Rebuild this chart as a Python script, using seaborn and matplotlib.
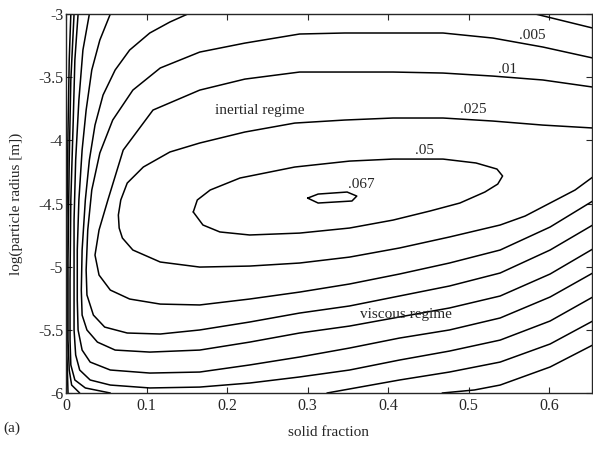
import numpy as np
import pandas as pd
import seaborn as sns
import matplotlib.pyplot as plt

sns.set_theme(style="ticks")
plt.rcParams['font.family'] = ['Liberation Serif', 'DejaVu Serif']

# contour lines: x = solid fraction, y = log(particle radius)
c067_x = [0.300, 0.313, 0.355, 0.361, 0.349, 0.313, 0.300]
c067_y = [-4.457, -4.496, -4.480, -4.441, -4.409, -4.425, -4.457]

c05_x = [0.158, 0.163, 0.179, 0.216, 0.284, 0.352, 0.406, 0.468, 0.509, 0.535, 0.542,
         0.536, 0.520, 0.489, 0.452, 0.406, 0.352, 0.290, 0.228, 0.191, 0.170, 0.158]
c05_y = [-4.567, -4.472, -4.393, -4.298, -4.211, -4.164, -4.148, -4.148, -4.179, -4.227, -4.282,
         -4.346, -4.409, -4.496, -4.559, -4.631, -4.694, -4.734, -4.749, -4.725, -4.670, -4.567]

c025_x = [0.654, 0.592, 0.530, 0.468, 0.406, 0.346, 0.284, 0.222, 0.166, 0.129, 0.096, 0.076, 0.068, 0.065, 0.066,
          0.070, 0.083, 0.117, 0.166, 0.228, 0.290, 0.352, 0.414, 0.476, 0.539, 0.570, 0.601, 0.632, 0.654]
c025_y = [-3.902, -3.879, -3.847, -3.823, -3.823, -3.839, -3.863, -3.934, -4.021, -4.092, -4.211, -4.338, -4.472, -4.591, -4.694,
          -4.773, -4.868, -4.963, -5.003, -4.995, -4.971, -4.924, -4.852, -4.765, -4.670, -4.599, -4.496, -4.393, -4.290]

c01_x = [0.654, 0.592, 0.530, 0.468, 0.406, 0.346, 0.290, 0.222, 0.166, 0.108, 0.071, 0.052, 0.041, 0.036,
         0.041, 0.055, 0.079, 0.117, 0.166, 0.228, 0.290, 0.352, 0.414, 0.476, 0.539, 0.601, 0.654]
c01_y = [-3.578, -3.522, -3.491, -3.467, -3.459, -3.459, -3.459, -3.515, -3.602, -3.760, -4.077, -4.472, -4.710, -4.908,
         -5.066, -5.185, -5.256, -5.296, -5.303, -5.256, -5.201, -5.137, -5.058, -4.971, -4.868, -4.686, -4.480]

c005_x = [0.654, 0.592, 0.530, 0.468, 0.406, 0.346, 0.290, 0.222, 0.166, 0.117, 0.083, 0.058, 0.042, 0.032, 0.027,
          0.025, 0.026, 0.034, 0.048, 0.076, 0.117, 0.166, 0.228, 0.290, 0.352, 0.414, 0.476, 0.539, 0.601, 0.654]
c005_y = [-3.348, -3.261, -3.190, -3.150, -3.150, -3.150, -3.158, -3.230, -3.301, -3.427, -3.602, -3.839, -4.100, -4.393, -4.710,
          -5.026, -5.224, -5.383, -5.478, -5.525, -5.533, -5.501, -5.438, -5.367, -5.311, -5.232, -5.153, -5.050, -4.868, -4.670]

l1_x = [0.151, 0.129, 0.104, 0.079, 0.061, 0.046, 0.036, 0.029, 0.024, 0.020, 0.019, 0.020, 0.026, 0.039,
        0.061, 0.104, 0.166, 0.228, 0.290, 0.352, 0.414, 0.476, 0.539, 0.601, 0.654]
l1_y = [-3.000, -3.063, -3.150, -3.285, -3.443, -3.641, -3.879, -4.156, -4.472, -4.868, -5.185, -5.383, -5.501, -5.597,
        -5.660, -5.676, -5.660, -5.597, -5.525, -5.470, -5.398, -5.327, -5.232, -5.058, -4.860]

l2_x = [0.055, 0.042, 0.032, 0.025, 0.020, 0.016, 0.014, 0.014, 0.015, 0.020, 0.030, 0.055,
        0.104, 0.166, 0.228, 0.290, 0.352, 0.414, 0.476, 0.539, 0.601, 0.654]
l2_y = [-3.000, -3.206, -3.443, -3.760, -4.077, -4.472, -4.868, -5.264, -5.501, -5.660, -5.755, -5.818,
        -5.842, -5.834, -5.778, -5.715, -5.644, -5.565, -5.501, -5.406, -5.240, -5.050]

l3_x = [0.029, 0.021, 0.016, 0.012, 0.010, 0.010, 0.010, 0.012, 0.017, 0.030, 0.055,
        0.104, 0.166, 0.228, 0.290, 0.352, 0.414, 0.476, 0.539, 0.601, 0.654]
l3_y = [-3.000, -3.285, -3.681, -4.156, -4.631, -5.106, -5.501, -5.699, -5.818, -5.897, -5.937,
        -5.960, -5.953, -5.921, -5.873, -5.818, -5.739, -5.668, -5.581, -5.430, -5.240]

l4_x = [0.015, 0.011, 0.009, 0.006, 0.005, 0.005, 0.006, 0.011, 0.024, 0.055]
l4_y = [-3.000, -3.364, -3.839, -4.472, -5.106, -5.581, -5.778, -5.897, -5.960, -6.000]
l4b_x = [0.324, 0.352, 0.414, 0.476, 0.539, 0.601, 0.654]
l4b_y = [-6.000, -5.968, -5.897, -5.834, -5.755, -5.612, -5.430]

l5_x = [0.010, 0.006, 0.004, 0.0025, 0.0025, 0.004, 0.007, 0.017]
l5_y = [-3.000, -3.522, -4.156, -4.947, -5.581, -5.818, -5.937, -6.000]
l5b_x = [0.467, 0.507, 0.539, 0.601, 0.654]
l5b_y = [-6.000, -5.976, -5.937, -5.794, -5.620]

l6_x = [0.006, 0.004, 0.0025, 0.0012, 0.0012, 0.0025]
l6_y = [-3.000, -3.364, -3.918, -4.631, -5.700, -6.000]

ltop_x = [0.583, 0.654]
ltop_y = [-3.000, -3.111]

curves = {
    "c067": (c067_x, c067_y), "c05": (c05_x, c05_y), "c025": (c025_x, c025_y),
    "c01": (c01_x, c01_y), "c005": (c005_x, c005_y), "l1": (l1_x, l1_y),
    "l2": (l2_x, l2_y), "l3": (l3_x, l3_y), "l4": (l4_x, l4_y), "l4b": (l4b_x, l4b_y),
    "l5": (l5_x, l5_y), "l5b": (l5b_x, l5b_y), "l6": (l6_x, l6_y), "ltop": (ltop_x, ltop_y),
}

rows = []
for name, (xs, ys) in curves.items():
    for i, (x, y) in enumerate(zip(xs, ys)):
        rows.append((name, i, x, y))
df = pd.DataFrame(rows, columns=["curve", "order", "solid", "logr"])

level_labels = [".005", ".01", ".025", ".05", ".067"]
label_x = [0.563, 0.536, 0.489, 0.433, 0.350]
label_y = [-3.22, -3.49, -3.81, -4.13, -4.40]

fig = plt.figure(figsize=(5.93, 4.49), dpi=100)
ax = fig.add_axes([0.1113, 0.1247, 0.887, 0.844])

sns.lineplot(data=df, x="solid", y="logr", units="curve", estimator=None, sort=False,
             color="black", linewidth=1.1, ax=ax)

for t, x, y in zip(level_labels, label_x, label_y):
    ax.text(x, y, t, fontsize=11, ha="left", va="bottom")
ax.text(0.241, -3.76, "inertial regime", fontsize=11, ha="center", va="center")
ax.text(0.422, -5.375, "viscous regime", fontsize=11, ha="center", va="center")

ax.set_xlim(0, 0.653)
ax.set_ylim(-6, -3)
ax.set_xticks([0, 0.1, 0.2, 0.3, 0.4, 0.5, 0.6])
ax.set_xticklabels(["0", "0.1", "0.2", "0.3", "0.4", "0.5", "0.6"])
ax.set_yticks([-3, -3.5, -4, -4.5, -5, -5.5, -6])
ax.set_yticklabels(["-3", "-3.5", "-4", "-4.5", "-5", "-5.5", "-6"])
ax.tick_params(direction="in", top=True, right=True, labelsize=11.5, length=4, width=0.8)
ax.tick_params(axis="y", pad=2)
for s in ax.spines.values():
    s.set_linewidth(1.0)
ax.set_xlabel("solid fraction", fontsize=11, labelpad=9)
ax.set_ylabel("log(particle radius [m])", fontsize=11, labelpad=11)
fig.text(0.005, 0.047, "(a)", fontsize=11, va="center")

fig.savefig("out.png", dpi=100)
